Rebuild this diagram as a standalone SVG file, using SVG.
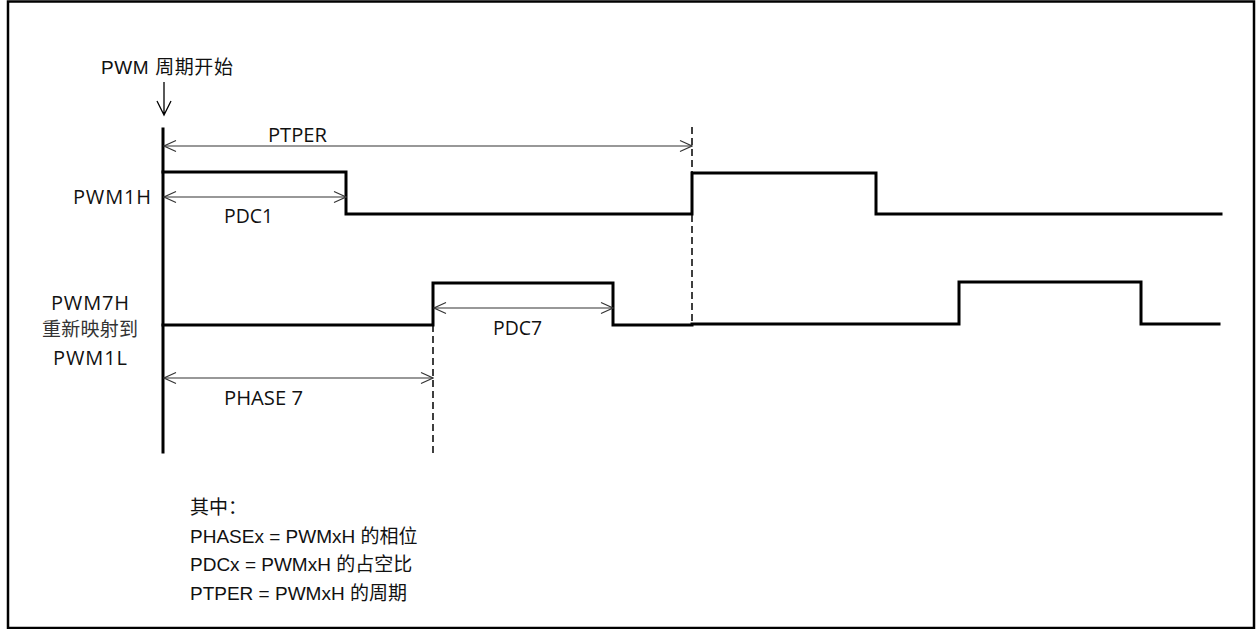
<svg xmlns="http://www.w3.org/2000/svg" width="1258" height="629" viewBox="0 0 1258 629">
<defs>
<style>
.frame{fill:#fff;stroke:#000;stroke-width:2.5}
.sig{fill:none;stroke:#000;stroke-width:3;stroke-linejoin:miter;stroke-linecap:square}
.dim{fill:none;stroke:#333;stroke-width:1.1}
.dash{fill:none;stroke:#000;stroke-width:1.5;stroke-dasharray:7,4}
.lbl{font-family:"Open Sans","Noto Sans CJK SC",sans-serif;font-size:20px;fill:#111}
.cjk{font-family:"Noto Sans CJK SC",sans-serif;font-size:19px;fill:#333}
.note{font-family:"Liberation Sans","Noto Sans CJK SC",sans-serif;font-size:19px;fill:#111}
</style>
<marker id="ah" viewBox="0 0 14 12" refX="13" refY="6" markerWidth="14" markerHeight="12" markerUnits="userSpaceOnUse" orient="auto-start-reverse">
<path d="M1,0.5 L13,6 L1,11.5" fill="none" stroke="#333" stroke-width="1.1"/>
</marker>
</defs>
<rect class="frame" x="8" y="1.5" width="1246" height="626.5"/>

<g id="title">
<text class="note" x="101" y="74" textLength="132" lengthAdjust="spacing">PWM 周期开始</text>
<path d="M164,82 V115 M157,101 L164,115 L171,101" fill="none" stroke="#000" stroke-width="1.3"/>
</g>

<g id="labels">
<text class="lbl" x="73" y="204" textLength="78" lengthAdjust="spacing">PWM1H</text>
<text class="lbl" x="51" y="310" textLength="78" lengthAdjust="spacing">PWM7H</text>
<text class="cjk" x="42" y="336" textLength="96" lengthAdjust="spacing">重新映射到</text>
<text class="lbl" x="53" y="365" textLength="74" lengthAdjust="spacing">PWM1L</text>
</g>

<g id="axis">
<line class="sig" x1="163" y1="129" x2="163" y2="452"/>
</g>

<g id="pwm1h">
<path class="sig" d="M163,172 H346 V214 H692 V173 H876 V214 H1221"/>
</g>

<g id="pwm7h">
<path class="sig" d="M163,325 H433 V283 H613 V325 H692 V324 H959 V282 H1141 V324 H1219"/>
</g>

<g id="connectors">
<line class="dash" x1="692" y1="127" x2="692" y2="325"/>
<line class="dash" x1="433" y1="325" x2="433" y2="453"/>
<line class="dim" x1="164" y1="146" x2="692" y2="146" marker-start="url(#ah)" marker-end="url(#ah)"/>
<line class="dim" x1="164" y1="197" x2="346" y2="197" marker-start="url(#ah)" marker-end="url(#ah)"/>
<line class="dim" x1="434" y1="308" x2="613" y2="308" marker-start="url(#ah)" marker-end="url(#ah)"/>
<line class="dim" x1="164" y1="378" x2="433" y2="378" marker-start="url(#ah)" marker-end="url(#ah)"/>
</g>

<g id="dimlabels">
<text class="lbl" x="268" y="142" textLength="59" lengthAdjust="spacingAndGlyphs">PTPER</text>
<text class="lbl" x="224" y="223" textLength="49" lengthAdjust="spacingAndGlyphs">PDC1</text>
<text class="lbl" x="493" y="335" textLength="49" lengthAdjust="spacingAndGlyphs">PDC7</text>
<text class="lbl" x="224" y="405" textLength="79" lengthAdjust="spacingAndGlyphs">PHASE 7</text>
</g>

<g id="note">
<text class="note" x="190" y="514">其中：</text>
<text class="note" x="190" y="542.5">PHASEx = PWMxH 的相位</text>
<text class="note" x="190" y="571">PDCx = PWMxH 的占空比</text>
<text class="note" x="190" y="599.5">PTPER = PWMxH 的周期</text>
</g>
</svg>
